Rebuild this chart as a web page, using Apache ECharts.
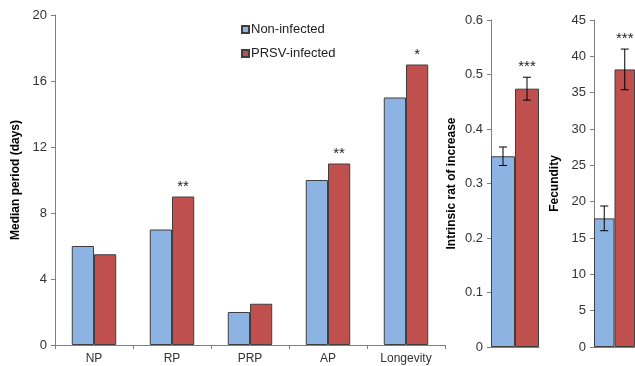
<!DOCTYPE html>
<html>
<head>
<meta charset="utf-8">
<script src="https://cdn.jsdelivr.net/npm/echarts@6/dist/echarts.min.js"></script>
<style>
  html, body { margin: 0; padding: 0; background: #fff; }
  #main { width: 635px; height: 366px; }
</style>
</head>
<body>
<div id="main"></div>
<script>
// 数据
var categories = ['NP', 'RP', 'PRP', 'AP', 'Longevity']
var periodNon = [6, 7, 2, 10, 15]
var periodInf = [5.5, 9, 2.5, 11, 17]
var periodStars = ['', '**', '', '**', '*']

var rateNon = [0.35]
var rateNonErr = [0.017]
var rateInf = [0.474]
var rateInfErr = [0.021]
var rateStars = ['***']

var fecNon = [17.7]
var fecNonErr = [1.7]
var fecInf = [38.2]
var fecInfErr = [2.8]
var fecStars = ['***']

var blue = '#8DB3E2'
var red = '#C0504D'
var edge = '#3f3f3f'
var axisColor = '#7f7f7f'
var textColor = '#333'
var font = 'Liberation Sans, Arial, sans-serif'

var myChart = echarts.init(document.getElementById('main'))

function yAxisCfg(gridIndex, max, interval, name, gap) {
  return {
    gridIndex: gridIndex,
    type: 'value',
    min: 0,
    max: max,
    interval: interval,
    name: name,
    nameLocation: 'middle',
    nameGap: gap,
    nameTextStyle: { fontFamily: font, fontSize: 12, fontWeight: 'bold', color: '#000' },
    axisLine: { show: true, lineStyle: { color: axisColor, width: 1 } },
    axisTick: { show: true, length: 4, lineStyle: { color: axisColor } },
    axisLabel: { fontFamily: font, fontSize: 13, color: textColor, margin: 8 },
    splitLine: { show: false },
  }
}

function xAxisCfg(gridIndex, data, showTick) {
  return {
    gridIndex: gridIndex,
    type: 'category',
    data: data,
    axisLine: { show: true, lineStyle: { color: axisColor, width: 1 } },
    axisTick: { show: showTick, length: 4, lineStyle: { color: axisColor } },
    axisLabel: { show: showTick, fontFamily: font, fontSize: 12, color: textColor, margin: 8 },
  }
}

var errStars = { rate: rateStars[0], fec: fecStars[0] }

// 误差线 + 星号
function errRender(params, api) {
  var cat = api.value(0)
  var val = api.value(1)
  var err = api.value(2)
  var dir = api.value(3)
  var bw = api.size([1, 0])[0] / 2
  var top = api.coord([cat, val + err])
  var bot = api.coord([cat, val - err])
  var x = top[0] + dir * bw / 2
  var cap = 4
  var children = [
    { type: 'line', shape: { x1: x, y1: top[1], x2: x, y2: bot[1] }, style: { stroke: '#000', lineWidth: 1 } },
    { type: 'line', shape: { x1: x - cap, y1: top[1], x2: x + cap, y2: top[1] }, style: { stroke: '#000', lineWidth: 1 } },
    { type: 'line', shape: { x1: x - cap, y1: bot[1], x2: x + cap, y2: bot[1] }, style: { stroke: '#000', lineWidth: 1 } },
  ]
  var star = dir > 0 ? errStars[params.seriesName] : ''
  if (star) {
    children.push({
      type: 'text',
      style: { text: star, x: x, y: top[1] - 3, align: 'center', verticalAlign: 'bottom', fontFamily: font, fontSize: 15, fill: '#222' },
    })
  }
  return { type: 'group', children: children }
}

var barStyle = function (c) {
  return { color: c, borderColor: edge, borderWidth: 1 }
}

var option = {
  animation: false,
  grid: [
    { left: 55, top: 15, width: 390, height: 330 },
    { left: 491, top: 20, width: 48, height: 327 },
    { left: 594, top: 20, width: 48, height: 327 },
  ],
  legend: {
    data: ['Non-infected', 'PRSV-infected'],
    orient: 'vertical',
    left: 236,
    top: 18,
    itemWidth: 7,
    itemHeight: 7,
    itemGap: 11,
    icon: 'rect',
    textStyle: { fontFamily: font, fontSize: 13, color: '#222', padding: [0, 0, 0, -3] },
  },
  xAxis: [
    xAxisCfg(0, categories, true),
    xAxisCfg(1, [''], false),
    xAxisCfg(2, [''], false),
  ],
  yAxis: [
    yAxisCfg(0, 20, 4, 'Median period (days)', 33),
    yAxisCfg(1, 0.6, 0.1, 'Intrinsic rat of increase', 33),
    yAxisCfg(2, 45, 5, 'Fecundity', 33),
  ],
  series: [
    {
      name: 'Non-infected', type: 'bar', xAxisIndex: 0, yAxisIndex: 0,
      data: periodNon, barGap: 0, barCategoryGap: '43%', itemStyle: barStyle(blue),
    },
    {
      name: 'PRSV-infected', type: 'bar', xAxisIndex: 0, yAxisIndex: 0,
      data: periodInf, barGap: 0, barCategoryGap: '43%', itemStyle: barStyle(red),
      label: {
        show: true, position: 'top', distance: 2,
        fontFamily: font, fontSize: 15, color: '#222',
        formatter: function (p) { return periodStars[p.dataIndex] },
      },
    },
    {
      name: 'Non-infected', type: 'bar', xAxisIndex: 1, yAxisIndex: 1,
      data: rateNon, barGap: 0, barCategoryGap: 0, itemStyle: barStyle(blue),
    },
    {
      name: 'PRSV-infected', type: 'bar', xAxisIndex: 1, yAxisIndex: 1,
      data: rateInf, barGap: 0, barCategoryGap: 0, itemStyle: barStyle(red),
    },
    {
      name: 'Non-infected', type: 'bar', xAxisIndex: 2, yAxisIndex: 2,
      data: fecNon, barGap: 0, barCategoryGap: 0, itemStyle: barStyle(blue),
    },
    {
      name: 'PRSV-infected', type: 'bar', xAxisIndex: 2, yAxisIndex: 2,
      data: fecInf, barGap: 0, barCategoryGap: 0, itemStyle: barStyle(red),
    },
    {
      name: 'rate', type: 'custom', xAxisIndex: 1, yAxisIndex: 1, z: 10,
      renderItem: errRender,
      data: [[0, rateNon[0], rateNonErr[0], -1], [0, rateInf[0], rateInfErr[0], 1]],
    },
    {
      name: 'fec', type: 'custom', xAxisIndex: 2, yAxisIndex: 2, z: 10,
      renderItem: errRender,
      data: [[0, fecNon[0], fecNonErr[0], -1], [0, fecInf[0], fecInfErr[0], 1]],
    },
  ],
}
myChart.setOption(option)
</script>
</body>
</html>
